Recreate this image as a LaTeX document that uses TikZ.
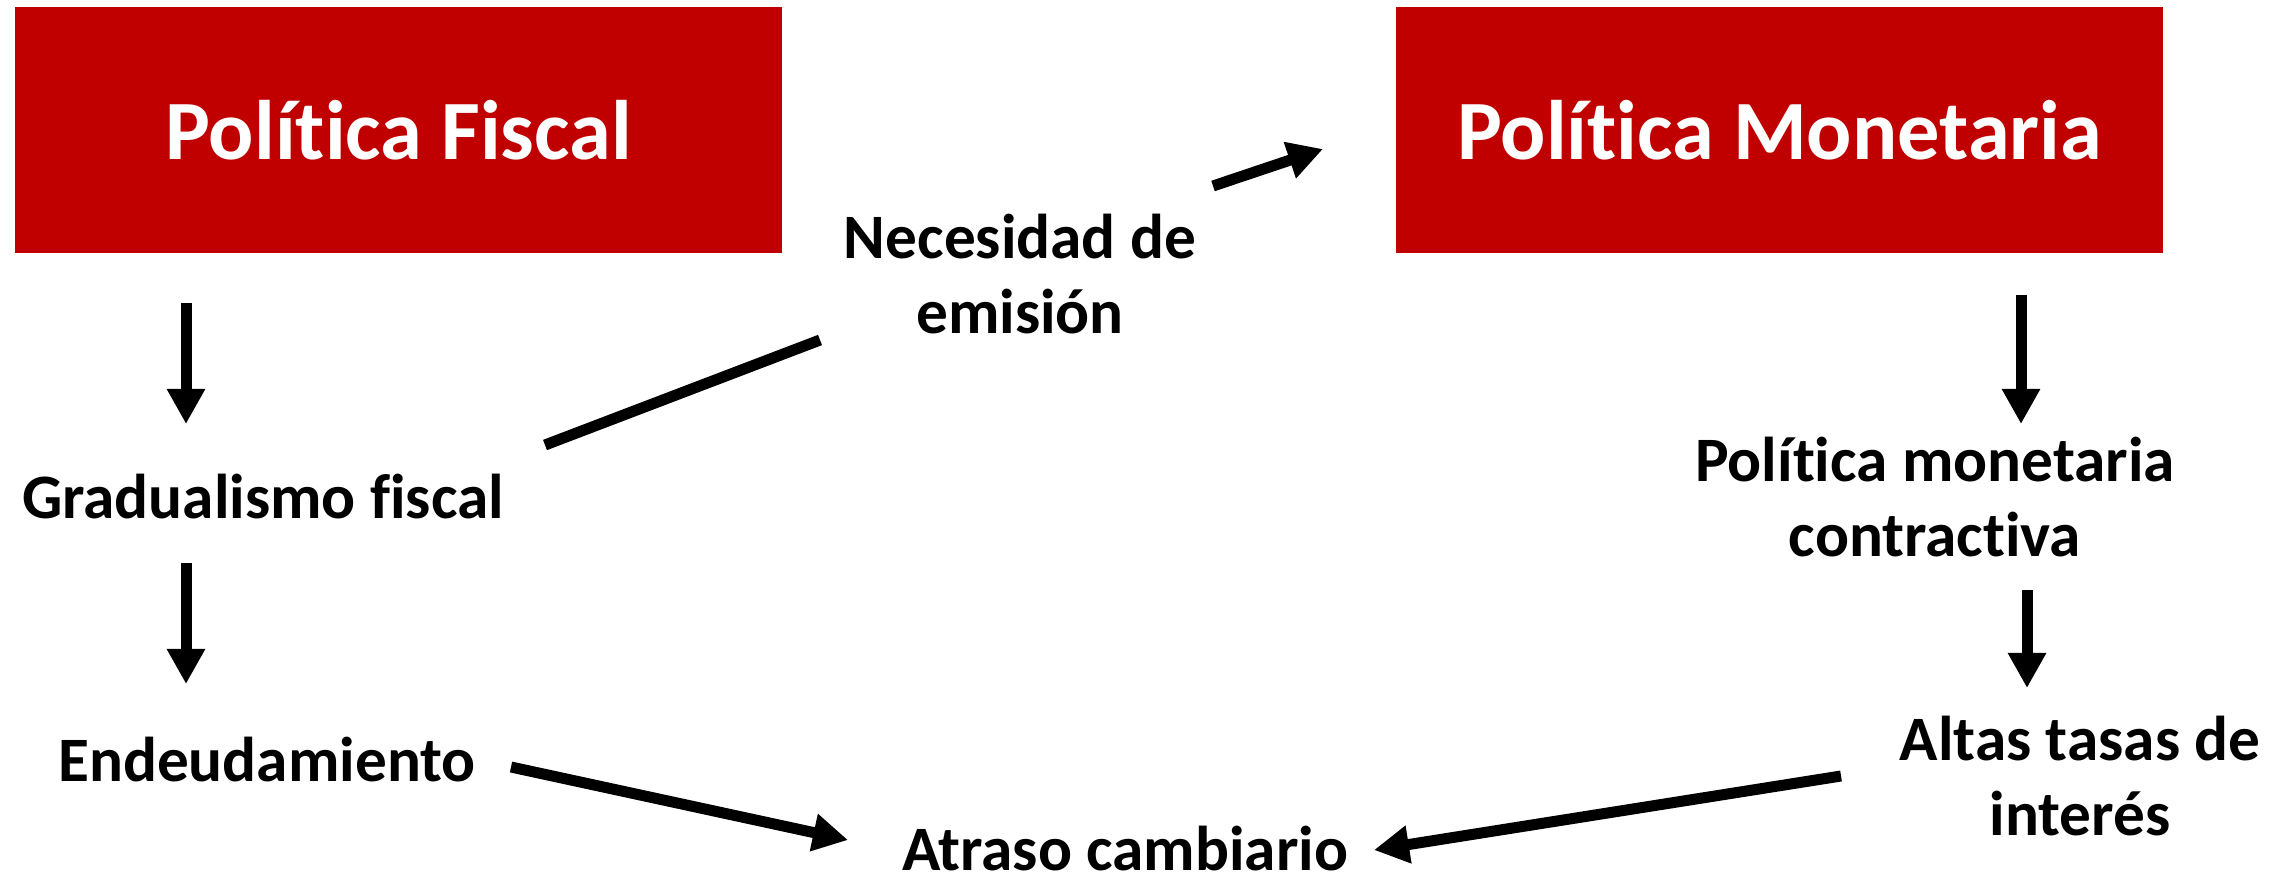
\documentclass[tikz,border=0pt]{standalone}
\usepackage{fontspec}
\setmainfont[Ligatures=NoCommon]{Carlito}
\usetikzlibrary{arrows.meta}
\definecolor{boxred}{HTML}{C00000}
\newcommand{\nolig}{\kern0pt }
\tikzset{
  titlebox/.style={fill=boxred, draw=none, text=white, font=\bfseries\fontsize{24}{29}\selectfont, minimum width=7.67cm, minimum height=2.46cm, inner sep=0pt},
  lbl/.style={font=\bfseries\fontsize{18}{21.6}\selectfont, align=center, inner sep=0pt},
  conn/.style={line width=0.11cm},
  arr/.style={conn, -{Triangle[width=0.36cm,length=0.35cm]}}
}
\begin{document}
\begin{tikzpicture}[x=0.01cm,y=-0.01cm]
\useasboundingbox (0,0) rectangle (2292,876);
\node[titlebox] (fiscal) at (398.5,130) {Polít\nolig ica Fiscal};
\node[titlebox] (monet) at (1779.5,130) {Polít\nolig ica Monetaria};
\node[lbl] (grad) at (263,497) {Gradualismo fiscal};
\node[lbl] (endeu) at (267,760) {Endeudamiento};
\node[lbl] (nec) at (1020,274) {Necesidad de\\emisión};
\node[lbl] (pmc) at (1935,497) {Polít\nolig ica monetaria\\contract\nolig iva};
\node[lbl] (altas) at (2080,776) {Altas tasas de\\interés};
\node[lbl] (atraso) at (1125,849) {Atraso cambiario};
% endpoints
\coordinate (f1) at (186,303); \coordinate (f2) at (186,424);
\coordinate (g1) at (186,563); \coordinate (g2) at (186,684);
\coordinate (m1) at (2021,295); \coordinate (m2) at (2021,424);
\coordinate (p1) at (2027,590); \coordinate (p2) at (2027,688);
\coordinate (l1) at (545,445); \coordinate (l2) at (820,340);
\coordinate (n1) at (1213,186); \coordinate (n2) at (1323,149);
\coordinate (e1) at (511,767); \coordinate (e2) at (848,840);
\coordinate (a1) at (1841,776); \coordinate (a2) at (1374,850);
\draw[arr] (f1) -- (f2);
\draw[arr] (g1) -- (g2);
\draw[arr] (m1) -- (m2);
\draw[arr] (p1) -- (p2);
\draw[conn] (l1) -- (l2);
\draw[arr] (n1) -- (n2);
\draw[arr] (e1) -- (e2);
\draw[arr] (a1) -- (a2);
\end{tikzpicture}
\end{document}
